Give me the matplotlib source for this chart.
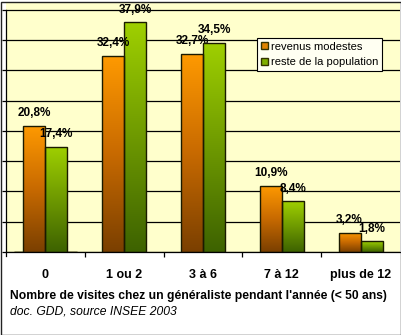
import numpy as np
import matplotlib
matplotlib.use('Agg')
import matplotlib.pyplot as plt
from matplotlib.colors import LinearSegmentedColormap
from matplotlib.patches import Rectangle

plt.rcParams['font.family'] = ['Liberation Sans', 'DejaVu Sans']

categories = ['0', '1 ou 2', '3 à 6', '7 à 12', 'plus de 12']
revenus_modestes = [20.8, 32.4, 32.7, 10.9, 3.2]
reste_population = [17.4, 37.9, 34.5, 8.4, 1.8]
series_names = ['revenus modestes', 'reste de la population']
title = "Nombre de visites chez un généraliste pendant l'année (< 50 ans)"
source = 'doc. GDD, source INSEE 2003'

orange_cmap = LinearSegmentedColormap.from_list('orange', ['#7a3f00', '#c86a00', '#ff9a00'])
green_cmap = LinearSegmentedColormap.from_list('green', ['#3d6200', '#6e9900', '#9fd000'])

fig = plt.figure(figsize=(4.02, 3.35), dpi=100)
fig.patch.set_facecolor('white')
ax = fig.add_axes([6 / 402, 1 - 252 / 335, 394 / 402, 249 / 335])
ax.set_facecolor('#ffffcc')

x = np.arange(len(categories))
width = 0.28
grad = np.linspace(0, 1, 256).reshape(-1, 1)

for offset, values, cmap in [(-width / 2, revenus_modestes, orange_cmap),
                             (width / 2, reste_population, green_cmap)]:
    bars = ax.bar(x + offset, values, width, facecolor='none', edgecolor='#1a1a00',
                  linewidth=1, zorder=3)
    for bar, v in zip(bars, values):
        x0 = bar.get_x()
        im = ax.imshow(grad, cmap=cmap, origin='lower', aspect='auto',
                       extent=(x0, x0 + width, 0, v), zorder=2.5)
        im.set_clip_path(bar)
        ax.annotate(f'{v:.1f}%'.replace('.', ','), (x0 + width / 2, v),
                    xytext=(0, 9), textcoords='offset points',
                    ha='center', va='center', fontsize=8.5, fontweight='bold')

# legend proxies
ax.bar([0], [0], color='#e08400', edgecolor='#333300', label=series_names[0])
ax.bar([0], [0], color='#7fae00', edgecolor='#333300', label=series_names[1])

ax.set_xlim(-0.5, len(categories) - 0.5)
ax.set_ylim(0, 41.1)
ax.set_yticks(np.arange(0, 41, 5))
ax.yaxis.grid(True, color='black', linewidth=0.9)
ax.set_axisbelow(True)
ax.tick_params(axis='y', direction='out', length=3, width=0.9, labelleft=False)

ax.set_xticks(x)
ax.set_xticklabels(categories, fontsize=9, fontweight='bold')
ax.tick_params(axis='x', length=0, pad=12)
ax.set_xticks(np.arange(0.5, len(categories) - 1, 1), minor=True)
ax.tick_params(axis='x', which='minor', direction='out', length=3.5, width=0.9)

for side in ['top', 'right']:
    ax.spines[side].set_visible(False)
ax.spines['left'].set_bounds(-0.6, 40)
ax.spines['left'].set_linewidth(0.9)
ax.spines['bottom'].set_linewidth(0.9)

leg = ax.legend(loc='upper left', bbox_to_anchor=(251 / 394, 1 - 35 / 249),
                bbox_transform=ax.transAxes, fontsize=8.0, frameon=True, fancybox=False,
                handlelength=0.6, handleheight=0.6, handletextpad=0.3,
                borderpad=0.35, labelspacing=0.5, borderaxespad=0)
leg.get_frame().set_edgecolor('black')
leg.get_frame().set_linewidth(0.8)
leg.get_frame().set_facecolor('#fffff2')
leg.get_frame().set_alpha(1)

fig.text(10 / 402, 1 - 296 / 335, title, fontsize=8.7, fontweight='bold', va='center')
fig.text(10 / 402, 1 - 311 / 335, source, fontsize=8.7, style='italic', va='center')

fig.patches.append(Rectangle((0.5 / 402, 0.5 / 335), 400.5 / 402, 333 / 335,
                             transform=fig.transFigure, fill=False,
                             edgecolor='#222222', linewidth=1))

fig.savefig('out.png', dpi=100)
